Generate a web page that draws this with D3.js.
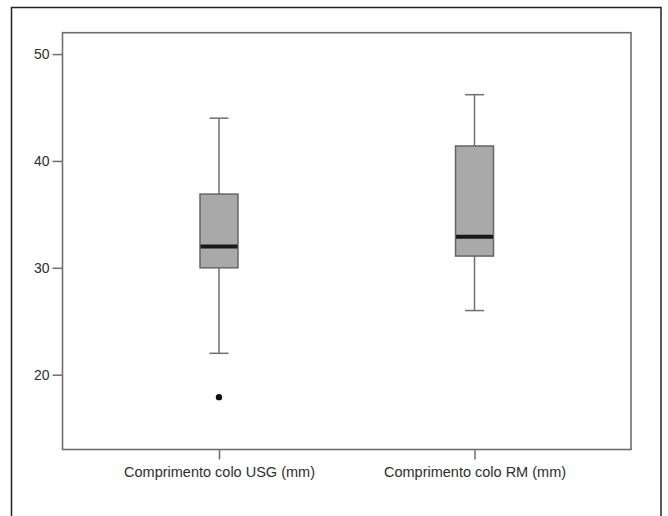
<!DOCTYPE html>
<html>
<head>
<meta charset="utf-8">
<script src="https://cdn.jsdelivr.net/npm/d3@7"></script>
<style>
  body { margin: 0; background: #fff; }
  svg { display: block; }
</style>
</head>
<body>
<div class="mydiv"></div>
<script>
var width = 668;
var height = 516;

// dados
var categories = ["Comprimento colo USG (mm)", "Comprimento colo RM (mm)"];
var whiskerLow = [22, 26];
var q1 = [30, 31.1];
var median = [32, 32.9];
var q3 = [36.9, 41.4];
var whiskerHigh = [44, 46.2];
var outliers = [[17.9], []];
var yTicks = [20, 30, 40, 50];

var plot = {left: 62.5, right: 631, top: 32.7, bottom: 449.5};

var svg = d3.select(".mydiv").append("svg")
    .attr("width", width)
    .attr("height", height);

// moldura externa
svg.append("rect")
    .attr("x", 11.5)
    .attr("y", 7.5)
    .attr("width", 649.5)
    .attr("height", 520)
    .attr("fill", "#fff")
    .attr("stroke", "#222")
    .attr("stroke-width", 1.5);

var y = d3.scaleLinear()
    .domain([13, 52])
    .range([plot.bottom, plot.top]);

var x = d3.scalePoint()
    .domain(categories)
    .range([plot.left, plot.right])
    .padding(0.6125);

var boxW = 38;
var capW = 19;

// area do grafico
svg.append("rect")
    .attr("x", plot.left)
    .attr("y", plot.top)
    .attr("width", plot.right - plot.left)
    .attr("height", plot.bottom - plot.top)
    .attr("fill", "#fff")
    .attr("stroke", "#6e6e6e")
    .attr("stroke-width", 1.6);

var yAxis = svg.append("g")
    .attr("transform", "translate(" + plot.left + ",0)")
    .call(d3.axisLeft(y).tickValues(yTicks).tickSize(10).tickPadding(3));

var xAxis = svg.append("g")
    .attr("transform", "translate(0," + plot.bottom + ")")
    .call(d3.axisBottom(x).tickSize(10).tickPadding(7));

[yAxis, xAxis].forEach(function(ax) {
  ax.select(".domain").remove();
  ax.selectAll(".tick line").attr("stroke", "#6e6e6e").attr("stroke-width", 1.5);
  ax.selectAll(".tick text")
    .attr("fill", "#2e2e2e")
    .style("font-family", "Liberation Sans, Arial, sans-serif");
});
yAxis.selectAll(".tick text").style("font-size", "14px");
xAxis.selectAll(".tick text").style("font-size", "14.5px");

var idx = d3.range(categories.length);
var g = svg.append("g");

// bigodes
g.selectAll(".whisker")
    .data(idx)
  .enter().append("line")
    .attr("x1", function(i) { return x(categories[i]); })
    .attr("x2", function(i) { return x(categories[i]); })
    .attr("y1", function(i) { return y(whiskerLow[i]); })
    .attr("y2", function(i) { return y(whiskerHigh[i]); })
    .attr("stroke", "#707070")
    .attr("stroke-width", 1.5);

g.selectAll(".capHigh")
    .data(idx)
  .enter().append("line")
    .attr("x1", function(i) { return x(categories[i]) - capW / 2; })
    .attr("x2", function(i) { return x(categories[i]) + capW / 2; })
    .attr("y1", function(i) { return y(whiskerHigh[i]); })
    .attr("y2", function(i) { return y(whiskerHigh[i]); })
    .attr("stroke", "#707070")
    .attr("stroke-width", 1.5);

g.selectAll(".capLow")
    .data(idx)
  .enter().append("line")
    .attr("x1", function(i) { return x(categories[i]) - capW / 2; })
    .attr("x2", function(i) { return x(categories[i]) + capW / 2; })
    .attr("y1", function(i) { return y(whiskerLow[i]); })
    .attr("y2", function(i) { return y(whiskerLow[i]); })
    .attr("stroke", "#707070")
    .attr("stroke-width", 1.5);

// caixas
g.selectAll(".box")
    .data(idx)
  .enter().append("rect")
    .attr("x", function(i) { return x(categories[i]) - boxW / 2; })
    .attr("y", function(i) { return y(q3[i]); })
    .attr("width", boxW)
    .attr("height", function(i) { return y(q1[i]) - y(q3[i]); })
    .attr("fill", "#a9a9a9")
    .attr("stroke", "#666")
    .attr("stroke-width", 1.5);

// mediana
g.selectAll(".median")
    .data(idx)
  .enter().append("line")
    .attr("x1", function(i) { return x(categories[i]) - boxW / 2 + 0.5; })
    .attr("x2", function(i) { return x(categories[i]) + boxW / 2 - 0.5; })
    .attr("y1", function(i) { return y(median[i]); })
    .attr("y2", function(i) { return y(median[i]); })
    .attr("stroke", "#1a1a1a")
    .attr("stroke-width", 4);

// outliers
idx.forEach(function(i) {
  g.selectAll(".out" + i)
      .data(outliers[i])
    .enter().append("circle")
      .attr("cx", x(categories[i]))
      .attr("cy", function(d) { return y(d); })
      .attr("r", 3.2)
      .attr("fill", "#111");
});
</script>
</body>
</html>
